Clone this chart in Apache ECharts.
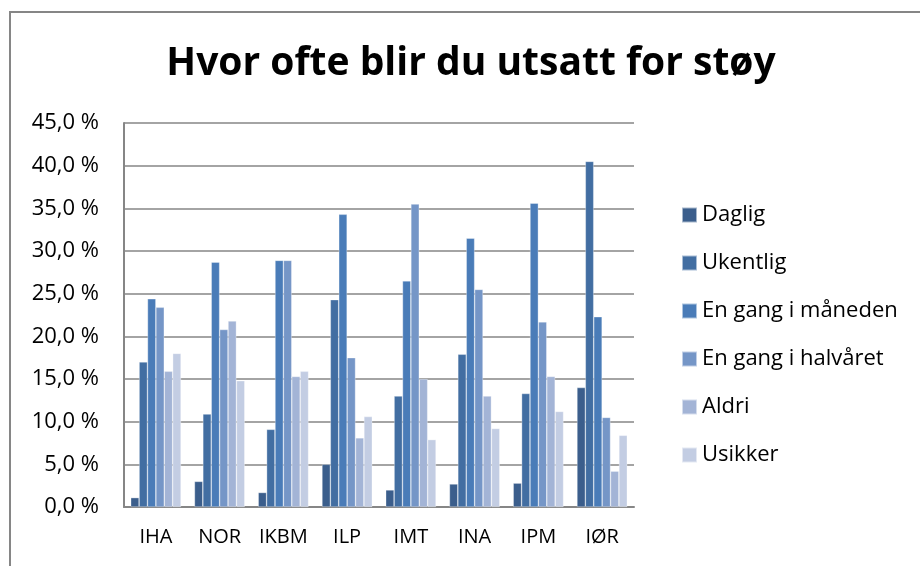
<!DOCTYPE html>
<html>
<head>
<meta charset="utf-8">
<script src="https://cdn.jsdelivr.net/npm/echarts@6/dist/echarts.min.js"></script>
<style>html,body{margin:0;padding:0;background:#fff}#c{width:920px;height:566px}</style>
</head>
<body>
<div id="c"></div>
<script>
const categories = ['IHA', 'NOR', 'IKBM', 'ILP', 'IMT', 'INA', 'IPM', 'IØR'];
const seriesNames = ['Daglig', 'Ukentlig', 'En gang i måneden', 'En gang i halvåret', 'Aldri', 'Usikker'];
const daglig   = [1.1, 3.0, 1.7, 5.0, 2.0, 2.7, 2.8, 14.0];
const ukentlig = [17.0, 10.9, 9.1, 24.3, 13.0, 17.9, 13.3, 40.5];
const maaned   = [24.4, 28.7, 28.9, 34.3, 26.5, 31.5, 35.6, 22.3];
const halvaar  = [23.4, 20.8, 28.9, 17.5, 35.5, 25.5, 21.7, 10.5];
const aldri    = [15.9, 21.8, 15.3, 8.1, 15.0, 13.0, 15.3, 4.2];
const usikker  = [18.0, 14.8, 15.9, 10.6, 7.9, 9.2, 11.2, 8.4];
const yTicks = [0, 5, 10, 15, 20, 25, 30, 35, 40, 45];
const titleText = 'Hvor ofte blir du utsatt for støy';

const colors = ['#3B5E8C', '#426EA2', '#4A7CB8', '#7596C7', '#A3B4D6', '#C3CDE3'];
const values = [daglig, ukentlig, maaned, halvaar, aldri, usikker];

const chart = echarts.init(document.getElementById('c'));
const font = 'Open Sans';
chart.setOption({
  animation: false,
  backgroundColor: '#fff',
  title: {
    text: titleText,
    left: 466, top: 39, textAlign: 'center',
    textStyle: { fontFamily: font, fontWeight: 'bold', fontSize: 39, color: '#000' }
  },
  graphic: [{
    type: 'rect', silent: true,
    shape: { x: 10, y: 12, width: 960, height: 620 },
    style: { fill: 'none', stroke: '#868686', lineWidth: 2 }
  }],
  legend: {
    orient: 'vertical', left: 676, top: 199,
    itemWidth: 15, itemHeight: 15, itemGap: 26,
    icon: 'rect',
    textStyle: { fontFamily: font, fontSize: 22, color: '#000' },
    data: seriesNames
  },
  grid: { left: 124, right: 286, top: 123, bottom: 59, containLabel: false },
  xAxis: {
    type: 'category', data: categories,
    axisLine: { lineStyle: { color: '#868686', width: 2 } },
    axisTick: { show: false },
    axisLabel: { interval: 0, fontFamily: font, fontSize: 20, color: '#000', margin: 20 }
  },
  yAxis: {
    type: 'value', min: yTicks[0], max: yTicks[yTicks.length - 1], interval: yTicks[1] - yTicks[0],
    axisLine: { show: true, lineStyle: { color: '#868686', width: 2 } },
    axisTick: { show: false },
    splitLine: { lineStyle: { color: '#868686', width: 1.5 } },
    axisLabel: {
      fontFamily: font, fontSize: 22, color: '#000', margin: 25,
      formatter: v => v.toFixed(1).replace('.', ',') + ' %'
    }
  },
  series: seriesNames.map((n, i) => ({
    name: n, type: 'bar', data: values[i],
    barGap: '0%', barCategoryGap: '21%',
    itemStyle: { color: colors[i], borderColor: 'rgba(255,255,255,0.55)', borderWidth: 0.6 }
  }))
});
</script>
</body>
</html>
